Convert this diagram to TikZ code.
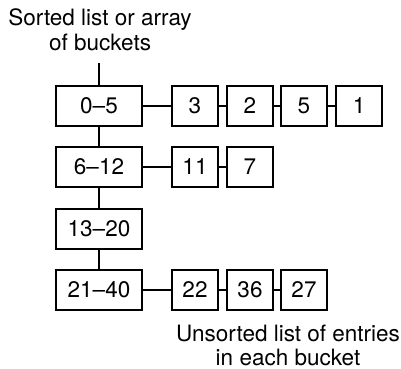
\documentclass[tikz,border=0pt]{standalone}
\usepackage{fontspec}
\setmainfont{TeX Gyre Heros}
\begin{document}
\begin{tikzpicture}[x=1pt,y=-1pt,
  every node/.style={font=\fontsize{22.5}{25}\selectfont},
  bucket/.style={draw, line width=1.9pt, minimum width=86pt, minimum height=40pt, inner sep=0pt},
  entry/.style={draw, line width=1.9pt, minimum width=46pt, minimum height=40pt, inner sep=0pt},
  link/.style={line width=1.9pt},
  label/.style={align=center, inner sep=0pt, anchor=north}]
\useasboundingbox (0,0) rectangle (401,368);
\node[label] (top) at (100,8.8) {Sorted list or array\\of buckets};
\coordinate (topend) at (99,63);
\node[bucket] (b0) at (99,106) {0–5};
\node[bucket] (b1) at (99,167) {6–12};
\node[bucket] (b2) at (99,229) {13–20};
\node[bucket] (b3) at (99,290) {21–40};
\node[entry] (e01) at (195,106) {3};
\node[entry] (e02) at (250,106) {2};
\node[entry] (e03) at (304,106) {5};
\node[entry] (e04) at (359,106) {1};
\node[entry] (e11) at (195,167) {11};
\node[entry] (e12) at (250,167) {7};
\node[entry] (e31) at (195,290) {22};
\node[entry] (e32) at (250,290) {36};
\node[entry] (e33) at (304,290) {27};
\node[label, font=\fontsize{22.5}{24}\selectfont] (bottom) at (288,324.5) {Unsorted list of entries\\in each bucket};
\draw[link] (topend) -- (b0.north);
\draw[link] (b0) -- (b1);
\draw[link] (b1) -- (b2);
\draw[link] (b2) -- (b3);
\draw[link] (b0) -- (e01);
\draw[link] (e01) -- (e02);
\draw[link] (e02) -- (e03);
\draw[link] (e03) -- (e04);
\draw[link] (b1) -- (e11);
\draw[link] (e11) -- (e12);
\draw[link] (b3) -- (e31);
\draw[link] (e31) -- (e32);
\draw[link] (e32) -- (e33);
\end{tikzpicture}
\end{document}
